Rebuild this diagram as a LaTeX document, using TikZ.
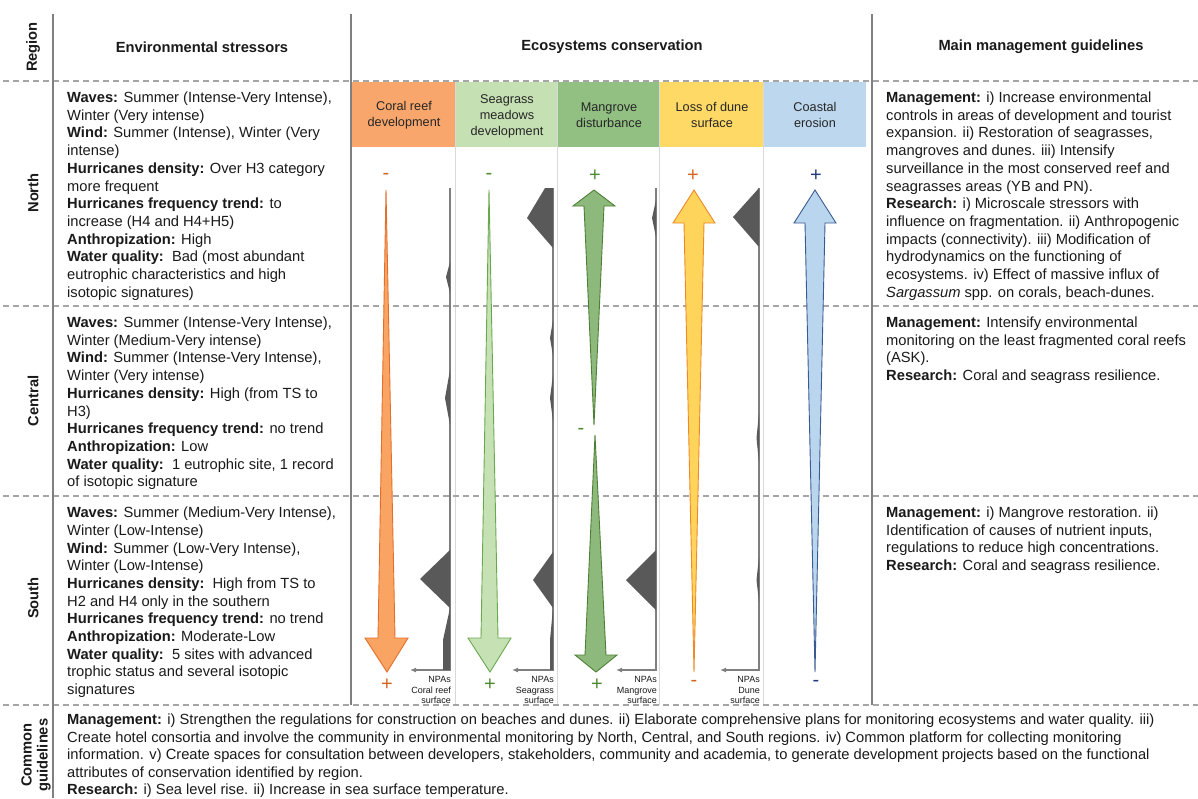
\documentclass[tikz,border=0pt]{standalone}
\usepackage{fontspec}
\setmainfont{Liberation Sans}
\usetikzlibrary{arrows.meta}
\definecolor{txtc}{HTML}{1A1A1A}
\definecolor{hdrtxt}{HTML}{262626}
\definecolor{coralH}{HTML}{F8A66C}
\definecolor{coralF}{HTML}{F9A462}
\definecolor{coralD}{HTML}{E2702C}
\definecolor{seagH}{HTML}{C5E0B3}
\definecolor{seagF}{HTML}{C6E2B5}
\definecolor{seagD}{HTML}{6AA84F}
\definecolor{mangH}{HTML}{92C083}
\definecolor{mangF}{HTML}{8DBA7C}
\definecolor{mangD}{HTML}{4E7F35}
\definecolor{duneH}{HTML}{FFD966}
\definecolor{duneF}{HTML}{FFD45A}
\definecolor{duneD}{HTML}{EE8A2A}
\definecolor{coastH}{HTML}{BDD7EE}
\definecolor{coastF}{HTML}{BAD6EF}
\definecolor{coastD}{HTML}{3A5A92}
\definecolor{profc}{HTML}{7F7F7F}
\definecolor{blobc}{HTML}{595959}
\definecolor{sepc}{HTML}{D9D9D9}
\definecolor{dashc}{HTML}{A6A6A6}
\definecolor{mainc}{HTML}{808080}
\definecolor{coralS}{HTML}{D4651F}
\definecolor{greenS}{HTML}{4E8A32}
\definecolor{blueS}{HTML}{1F3D7A}
\begin{document}
\begin{tikzpicture}[x=1pt,y=-1pt,
  txt/.style={anchor=north west, inner sep=0pt, align=left, text=txtc, font=\fontsize{14.7}{17.7}\selectfont},
  bottxt/.style={anchor=north west, inner sep=0pt, align=left, text=txtc, font=\fontsize{14.7}{17.6}\selectfont},
  hdr/.style={inner sep=0pt, text=txtc, font=\bfseries\fontsize{14.7}{17.7}\selectfont},
  boxlab/.style={inner sep=0pt, align=center, text=hdrtxt, font=\fontsize{12.7}{16}\selectfont},
  npa/.style={anchor=north east, inner sep=0pt, align=right, text=txtc, font=\fontsize{9}{10.5}\selectfont},
  sgn/.style={inner sep=0pt, font=\fontsize{20}{20}\selectfont},
  prof/.style={draw=profc, line width=1.2pt},
  npaarrow/.style={prof, -{Latex[length=6pt,width=5pt]}},
  blob/.style={fill=blobc},
  mainline/.style={draw=mainc, line width=1.4pt},
  sepline/.style={draw=sepc, line width=1pt},
  dashline/.style={draw=dashc, line width=1.2pt, dash pattern=on 6pt off 4pt},
  arr/.style={line width=0.9pt, line join=miter}
]
\useasboundingbox (0,0) rectangle (1198,798);
\fill[white] (0,0) rectangle (1198,798);

% header colour boxes
\fill[coralH] (352,82) rectangle (455,147);
\fill[seagH] (456,82) rectangle (557,147);
\fill[mangH] (558,82) rectangle (659,147);
\fill[duneH] (660,82) rectangle (763,147);
\fill[coastH] (764,82) rectangle (866,147);

% light separators
\foreach \xx in {455.5,557.5,659.5,763.5}
  \draw[sepline] (\xx,82) -- (\xx,705);

% dashed row separators
\foreach \yy in {81,306,496,705}
  \draw[dashline] (3,\yy) -- (1198,\yy);

% main vertical lines
\draw[mainline] (53,14) -- (53,798);
\draw[mainline] (351,14) -- (351,705);
\draw[mainline] (872,14) -- (872,705);

% header titles
\node[hdr, rotate=90] (region) at (33,47) {Region};
\node[hdr] (envh) at (202,47) {Environmental stressors};
\node[hdr] (ecoh) at (612,47) {Ecosystems conservation};
\node[hdr] (mgmth) at (1041,47) {Main management guidelines};
\node[hdr, rotate=90] (north) at (33,193) {North};
\node[hdr, rotate=90] (central) at (33,401) {Central};
\node[hdr, rotate=90] (south) at (33,598) {South};
\node[hdr, rotate=90, align=center, font=\bfseries\fontsize{14.7}{16}\selectfont] (common) at (36,755) {Common\\guidelines};

% box labels
\node[boxlab] (lcoral) at (404,115) {Coral reef\\development};
\node[boxlab] (lseag) at (507,116) {Seagrass\\meadows\\development};
\node[boxlab] (lmang) at (609,115) {Mangrove\\disturbance};
\node[boxlab] (ldune) at (712,115) {Loss of dune\\surface};
\node[boxlab] (lcoast) at (815,115) {Coastal\\erosion};

% NPA profile lines
\coordinate (p1t) at (450,188); \coordinate (p1b) at (450,670); \coordinate (p1e) at (410,670);
\coordinate (p2t) at (553,188); \coordinate (p2b) at (553,670); \coordinate (p2e) at (512,670);
\coordinate (p3t) at (656,188); \coordinate (p3b) at (656,670); \coordinate (p3e) at (616,670);
\coordinate (p4t) at (759,188); \coordinate (p4b) at (759,670); \coordinate (p4e) at (720,670);
\draw[npaarrow] (p1t) -- (p1b) -- (p1e);
\draw[npaarrow] (p2t) -- (p2b) -- (p2e);
\draw[npaarrow] (p3t) -- (p3b) -- (p3e);
\draw[npaarrow] (p4t) -- (p4b) -- (p4e);

% profile shapes
\fill[blob] (450,262) -- (446,277) -- (450,293) -- cycle;
\fill[blob] (450,370) -- (445,398) -- (450,425) -- cycle;
\fill[blob] (450,550) -- (420,579) -- (450,608) -- cycle;
\fill[blob] (450,608) -- (443,640) -- (443,670) -- (450,670) -- cycle;
\fill[blob] (545,188) -- (553,188) -- (553,248) -- (527,218) -- cycle;
\fill[blob] (553,320) -- (550,338) -- (553,356) -- cycle;
\fill[blob] (553,375) -- (550,398) -- (553,421) -- cycle;
\fill[blob] (553,552) -- (533,580) -- (553,608) -- cycle;
\fill[blob] (553,608) -- (550,640) -- (550,670) -- (553,670) -- cycle;
\fill[blob] (656,200) -- (652,218) -- (656,237) -- cycle;
\fill[blob] (656,550) -- (626,580) -- (656,610) -- cycle;
\fill[blob] (759,188) -- (733,217) -- (759,247) -- cycle;
\fill[blob] (759,413) -- (756.5,438) -- (759,463) -- cycle;
\fill[blob] (759,557) -- (756.5,580) -- (759,602) -- cycle;

% ecosystem arrows
\filldraw[arr, fill=coralF, draw=coralD] (386,190) -- (395,638) -- (408,638) -- (387,672) -- (365,638) -- (378,638) -- cycle;
\filldraw[arr, fill=seagF, draw=seagD] (489,190) -- (498,638) -- (511,638) -- (490,672) -- (468,638) -- (481,638) -- cycle;
\filldraw[arr, fill=mangF, draw=mangD] (594,190) -- (615,206) -- (604,206) -- (594,425) -- (584,206) -- (573,206) -- cycle;
\filldraw[arr, fill=mangF, draw=mangD] (595,435) -- (606,655) -- (617,655) -- (596,672) -- (575,655) -- (585,655) -- cycle;
\filldraw[arr, fill=duneF, draw=duneD] (694,190) -- (715,223) -- (704,223) -- (694,672) -- (684,223) -- (673,223) -- cycle;
\filldraw[arr, fill=coastF, draw=coastD] (815,190) -- (836,223) -- (825,223) -- (815,672) -- (805,223) -- (794,223) -- cycle;

% signs
\node[sgn, text=coralS] (s1t) at (386,176) {-};
\node[sgn, text=coralS] (s1b) at (387,685) {+};
\node[sgn, text=greenS] (s2t) at (489,176) {-};
\node[sgn, text=greenS] (s2b) at (490,685) {+};
\node[sgn, text=greenS] (s3t) at (595,176) {+};
\node[sgn, text=greenS] (s3m) at (581,431) {-};
\node[sgn, text=greenS] (s3b) at (597,685) {+};
\node[sgn, text=coralS] (s4t) at (693,176) {+};
\node[sgn, text=coralS] (s4b) at (694,683) {-};
\node[sgn, text=blueS] (s5t) at (816,176) {+};
\node[sgn, text=blueS] (s5b) at (816,683) {-};

% NPA labels
\node[npa] (n1) at (451,675) {\strut NPAs\\Coral reef\\surface};
\node[npa] (n2) at (554,675) {\strut NPAs\\Seagrass\\surface};
\node[npa] (n3) at (657,675) {\strut NPAs\\Mangrove\\surface};
\node[npa] (n4) at (760,675) {\strut NPAs\\Dune\\surface};

% stressors text
\node[txt] (envN) at (67,90) {\strut\textbf{Waves:} Summer (Intense-Very Intense),\\
Winter (Very intense)\\
\textbf{Wind:} Summer (Intense), Winter (Very\\
intense)\\
\textbf{Hurricanes density:} Over H3 category\\
more frequent\\
\textbf{Hurricanes frequency trend:} to\\
increase (H4 and H4+H5)\\
\textbf{Anthropization:} High\\
\textbf{Water quality:}\ \ Bad (most abundant\\
eutrophic characteristics and high\\
isotopic signatures)};

\node[txt] (envC) at (67,315) {\strut\textbf{Waves:} Summer (Intense-Very Intense),\\
Winter (Medium-Very intense)\\
\textbf{Wind:} Summer (Intense-Very Intense),\\
Winter (Very intense)\\
\textbf{Hurricanes density:} High (from TS to\\
H3)\\
\textbf{Hurricanes frequency trend:} no trend\\
\textbf{Anthropization:} Low\\
\textbf{Water quality:}\ \ 1 eutrophic site, 1 record\\
of isotopic signature};

\node[txt] (envS) at (67,505) {\strut\textbf{Waves:} Summer (Medium-Very Intense),\\
Winter (Low-Intense)\\
\textbf{Wind:} Summer (Low-Very Intense),\\
Winter (Low-Intense)\\
\textbf{Hurricanes density:}\ \ High from TS to\\
H2 and H4 only in the southern\\
\textbf{Hurricanes frequency trend:} no trend\\
\textbf{Anthropization:} Moderate-Low\\
\textbf{Water quality:}\ \ 5 sites with advanced\\
trophic status and several isotopic\\
signatures};

% guidelines text
\node[txt] (mgN) at (886,90) {\strut\textbf{Management:} i) Increase environmental\\
controls in areas of development and tourist\\
expansion. ii) Restoration of seagrasses,\\
mangroves and dunes. iii) Intensify\\
surveillance in the most conserved reef and\\
seagrasses areas (YB and PN).\\
\textbf{Research:} i) Microscale stressors with\\
influence on fragmentation. ii) Anthropogenic\\
impacts (connectivity). iii) Modification of\\
hydrodynamics on the functioning of\\
ecosystems. iv) Effect of massive influx of\\
\textit{Sargassum} spp. on corals, beach-dunes.};

\node[txt] (mgC) at (886,315) {\strut\textbf{Management:} Intensify environmental\\
monitoring on the least fragmented coral reefs\\
(ASK).\\
\textbf{Research:} Coral and seagrass resilience.};

\node[txt] (mgS) at (886,505) {\strut\textbf{Management:} i) Mangrove restoration. ii)\\
Identification of causes of nutrient inputs,\\
regulations to reduce high concentrations.\\
\textbf{Research:} Coral and seagrass resilience.};

% common guidelines text
\node[bottxt] (cg) at (67,712) {\strut\textbf{Management:} i) Strengthen the regulations for construction on beaches and dunes. ii) Elaborate comprehensive plans for monitoring ecosystems and water quality. iii)\\
Create hotel consortia and involve the community in environmental monitoring by North, Central, and South regions. iv) Common platform for collecting monitoring\\
information. v) Create spaces for consultation between developers, stakeholders, community and academia, to generate development projects based on the functional\\
attributes of conservation identified by region.\\
\textbf{Research:} i) Sea level rise. ii) Increase in sea surface temperature.};
\end{tikzpicture}
\end{document}
